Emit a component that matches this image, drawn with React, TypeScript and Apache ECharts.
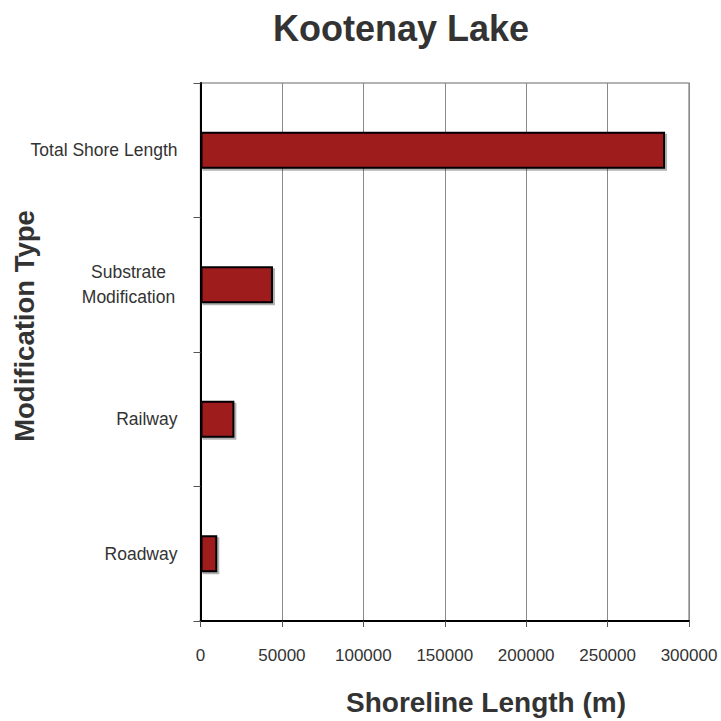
import React, { useEffect, useRef } from "react";
import * as echarts from "echarts";

const categories = ["Roadway", "Railway", "Substrate\nModification", "Total Shore Length"];
const values = [10300, 20800, 44500, 285300];
const xTicks = { min: 0, max: 300000, interval: 50000 };

const sans = "'Liberation Sans', Arial, sans-serif";

export default function App() {
  const ref = useRef<HTMLDivElement>(null);
  useEffect(() => {
    document.body.style.margin = "0";
    const chart = echarts.init(ref.current!, null, { renderer: "svg" });
    chart.setOption({
      animation: false,
      backgroundColor: "#ffffff",
      grid: {
        left: 200.5,
        right: 32,
        top: 83,
        bottom: 100,
        show: true,
        borderColor: "#9a9a9a",
        borderWidth: 1.5,
        containLabel: false,
        outerBoundsMode: "none",
      },
      graphic: [
        {
          type: "text",
          x: 401,
          y: 28,
          style: {
            text: "Kootenay Lake",
            font: `bold 36px ${sans}`,
            fill: "#333333",
            textAlign: "center",
            textVerticalAlign: "middle",
          },
        },
        {
          type: "text",
          x: 24,
          y: 326,
          rotation: Math.PI / 2,
          style: {
            text: "Modification Type",
            font: `bold 27.5px ${sans}`,
            fill: "#333333",
            textAlign: "center",
            textVerticalAlign: "middle",
          },
        },
        {
          type: "text",
          x: 486,
          y: 702,
          style: {
            text: "Shoreline Length (m)",
            font: `bold 28px ${sans}`,
            fill: "#333333",
            textAlign: "center",
            textVerticalAlign: "middle",
          },
        },
      ],
      xAxis: {
        type: "value",
        min: xTicks.min,
        max: xTicks.max,
        interval: xTicks.interval,
        axisLine: { show: true, lineStyle: { color: "#000", width: 2 } },
        axisTick: { show: true, length: 6, lineStyle: { color: "#555", width: 1 } },
        axisLabel: {
          margin: 26,
          color: "#333",
          fontFamily: sans,
          fontSize: 17,
          formatter: (v: number) => String(v),
        },
        splitLine: { show: true, lineStyle: { color: "#8a8a8a", width: 1 } },
      },
      yAxis: {
        type: "category",
        data: categories,
        axisLine: { show: true, lineStyle: { color: "#000", width: 2 } },
        axisTick: { show: true, length: 7, alignWithLabel: false, lineStyle: { color: "#555", width: 1 } },
        axisLabel: {
          margin: 23,
          color: "#333",
          fontFamily: sans,
          fontSize: 17.5,
          lineHeight: 25,
          formatter: (v: string) => {
            if (v.indexOf("\n") >= 0) {
              return v
                .split("\n")
                .map((s) => `{c|${s}}`)
                .join("\n");
            }
            return v;
          },
          rich: {
            c: {
              width: 98,
              align: "center",
              fontFamily: sans,
              fontSize: 17.5,
              lineHeight: 25,
              color: "#333",
            },
          },
        },
        splitLine: { show: false },
      },
      series: [
        {
          type: "bar",
          data: values,
          barWidth: 37,
          itemStyle: {
            color: "#9e1a1e",
            borderColor: "#000",
            borderWidth: 2,
            shadowColor: "rgba(0,0,0,0.3)",
            shadowOffsetX: 2,
            shadowOffsetY: 2,
            shadowBlur: 1,
          },
        },
      ],
    });
    return () => chart.dispose();
  }, []);
  return <div ref={ref} style={{ width: 721, height: 721, position: "absolute", left: 0, top: 0 }} />;
}
